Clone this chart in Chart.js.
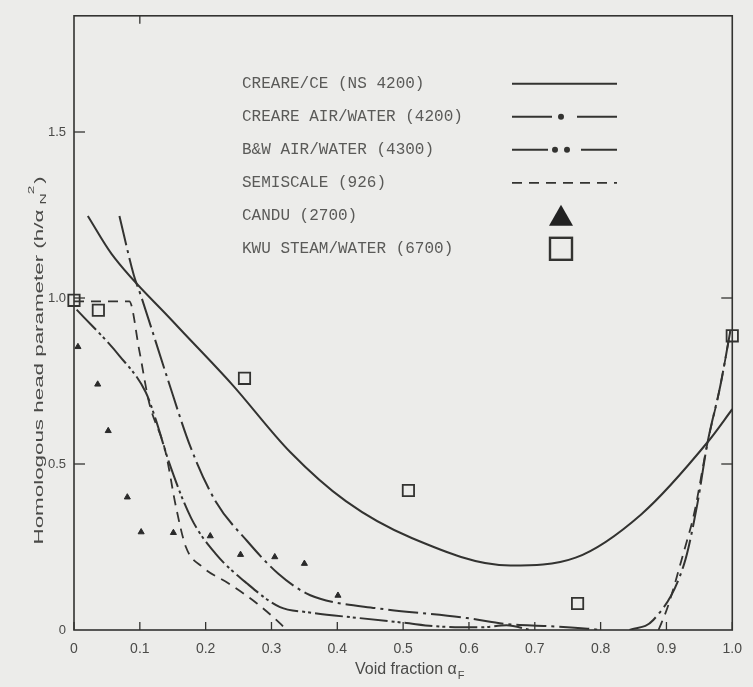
<!DOCTYPE html>
<html>
<head>
<meta charset="utf-8">
<script src="https://cdn.jsdelivr.net/npm/chart.js@4.4.0/dist/chart.umd.min.js"></script>
<style>
  html, body { margin: 0; padding: 0; background: #ececea; }
  canvas { display: block; }
</style>
</head>
<body>
<canvas id="headChart" width="753" height="687"></canvas>
<script>
// ---------------------------------------------------------------------------
// Homologous head parameter vs void fraction
// ---------------------------------------------------------------------------

const xTickValues = [0, 0.1, 0.2, 0.3, 0.4, 0.5, 0.6, 0.7, 0.8, 0.9, 1.0];
const xTickLabels = ['0', '0.1', '0.2', '0.3', '0.4', '0.5', '0.6', '0.7', '0.8', '0.9', '1.0'];
const yTickValues = [0, 0.5, 1.0, 1.5];
const yTickLabels = ['0', '0.5', '1.0', '1.5'];

const seriesNames = [
    'CREARE/CE (NS 4200)',
    'CREARE AIR/WATER (4200)',
    'B&W AIR/WATER (4300)',
    'SEMISCALE (926)',
    'CANDU (2700)',
    'KWU STEAM/WATER (6700)'
];

// CREARE/CE - solid U curve
const creareCeX = [0.021, 0.057, 0.15, 0.24, 0.328, 0.413, 0.513, 0.663, 0.762, 0.862, 0.963, 1.0];
const creareCeY = [1.247, 1.133, 0.93, 0.74, 0.537, 0.388, 0.277, 0.194, 0.218, 0.349, 0.567, 0.665];

// CREARE air/water - long dash + dot (null = break in the curve)
const creareAwX = [0.069, 0.091, 0.102, 0.14, 0.178, 0.215, 0.263, 0.31, 0.353, 0.383, 0.458, 0.597, 0.657, 0.72, 0.78, 0.80, 0.82, 0.844, 0.88, 0.927, 0.947, 0.962, 0.982, 0.997];
const creareAwY = [1.247, 1.068, 1.005, 0.77, 0.546, 0.388, 0.268, 0.17, 0.110, 0.089, 0.066, 0.036, 0.018, 0.012, 0.004, 0, null, 0, 0.03, 0.2, 0.38, 0.56, 0.737, 0.90];

// B&W air/water - long dash + two dots
const bwAwX = [0.004, 0.069, 0.109, 0.124, 0.144, 0.178, 0.215, 0.263, 0.313, 0.353, 0.433, 0.50, 0.558, 0.62, 0.657, 0.693];
const bwAwY = [0.965, 0.826, 0.716, 0.635, 0.507, 0.337, 0.23, 0.14, 0.069, 0.054, 0.036, 0.022, 0.01, 0.008, 0.014, 0];

// Semiscale - dashed
const semiX = [0, 0.084, 0.099, 0.114, 0.139, 0.155, 0.17, 0.195, 0.235, 0.278, 0.313, 0.323, 0.6, 0.888, 0.902, 0.927, 0.942, 0.962, 0.982, 0.997];
const semiY = [0.99, 0.99, 0.844, 0.686, 0.537, 0.37, 0.25, 0.19, 0.14, 0.08, 0.02, 0, null, 0, 0.07, 0.24, 0.35, 0.56, 0.737, 0.90];

// CANDU - triangles
const canduX = [0.006, 0.036, 0.052, 0.081, 0.102, 0.151, 0.207, 0.253, 0.305, 0.350, 0.401];
const canduY = [0.853, 0.74, 0.60, 0.40, 0.295, 0.293, 0.283, 0.227, 0.22, 0.20, 0.104];

// KWU steam/water - open squares
const kwuX = [0, 0.037, 0.259, 0.508, 0.765, 1.0];
const kwuY = [0.993, 0.963, 0.758, 0.42, 0.08, 0.886];

const INK = '#333331';
const TEXT = '#4a4a48';

const toPoints = (xs, ys) => xs.map((x, i) => ({ x: x, y: ys[i] }));

function lineSet(label, xs, ys, dash, width) {
    return {
        type: 'line',
        label: label,
        data: toPoints(xs, ys),
        borderColor: INK,
        borderWidth: width,
        borderDash: dash,
        pointRadius: 0,
        cubicInterpolationMode: 'monotone',
        spanGaps: false,
        fill: false
    };
}

// background fill
const paper = {
    id: 'paper',
    beforeDraw(chart) {
        const ctx = chart.ctx;
        ctx.save();
        ctx.fillStyle = '#ececea';
        ctx.fillRect(0, 0, chart.width, chart.height);
        ctx.restore();
    }
};

// frame, inward tick marks, axis titles, legend
const decorations = {
    id: 'decorations',
    afterDatasetsDraw(chart) {
        const { ctx, chartArea: a, scales: { x, y } } = chart;
        ctx.save();
        ctx.strokeStyle = INK;
        ctx.lineWidth = 1.6;
        ctx.setLineDash([]);
        ctx.strokeRect(a.left, a.top, a.right - a.left, a.bottom - a.top);

        const seg = (x1, y1, x2, y2) => {
            ctx.beginPath();
            ctx.moveTo(x1, y1);
            ctx.lineTo(x2, y2);
            ctx.stroke();
        };
        ctx.lineWidth = 1.3;
        xTickValues.forEach(v => {
            const px = x.getPixelForValue(v);
            seg(px, a.bottom, px, a.bottom - 8);
        });
        seg(x.getPixelForValue(0.1), a.top, x.getPixelForValue(0.1), a.top + 8);
        [0.5, 1.0, 1.5].forEach(v => {
            const py = y.getPixelForValue(v);
            seg(a.left, py, a.left + 11, py);
            if (v < 1.5) seg(a.right, py, a.right - 11, py);
        });

        // x title with subscript
        ctx.fillStyle = TEXT;
        ctx.textBaseline = 'alphabetic';
        ctx.textAlign = 'left';
        ctx.font = '16px "Liberation Sans", Arial, sans-serif';
        const xt = 'Void fraction \u03b1';
        const xw = ctx.measureText(xt).width;
        const xs0 = 355;
        ctx.fillText(xt, xs0, a.bottom + 44);
        ctx.font = '11px "Liberation Sans", Arial, sans-serif';
        ctx.fillText('F', xs0 + xw + 1, a.bottom + 49);

        // y title, rotated and stretched along its length
        ctx.save();
        ctx.translate(43, 359);
        ctx.rotate(-Math.PI / 2);
        ctx.scale(1.72, 1);
        ctx.font = '13px "Liberation Sans", Arial, sans-serif';
        ctx.textAlign = 'left';
        const main = 'Homologous head parameter (h/\u03b1';
        const mw = ctx.measureText(main).width;
        const start = -(mw + 21) / 2;
        ctx.fillText(main, start, 0);
        ctx.font = '9px "Liberation Sans", Arial, sans-serif';
        ctx.fillText('N', start + mw + 3, 3);
        ctx.fillText('2', start + mw + 9, -9);
        ctx.font = '13px "Liberation Sans", Arial, sans-serif';
        ctx.fillText(')', start + mw + 15, 0);
        ctx.restore();

        // legend
        const textX = 242;
        const lineX1 = 512;
        const lineX2 = 617;
        const markX = 561;
        ctx.font = '16px "Liberation Mono", "DejaVu Sans Mono", monospace';
        ctx.textBaseline = 'middle';
        chart.data.datasets.forEach((ds, i) => {
            const rowY = a.top + 68 + i * 33;
            ctx.fillStyle = '#5a5a58';
            ctx.fillText(ds.label, textX, rowY);
            ctx.strokeStyle = INK;
            if (ds.type === 'line') {
                ctx.lineWidth = ds.borderWidth;
                ctx.setLineDash(ds.legendDash || ds.borderDash || []);
                seg(lineX1, rowY, lineX2, rowY);
                ctx.setLineDash([]);
                ctx.fillStyle = INK;
                (ds.legendDots || []).forEach(dx => {
                    ctx.beginPath();
                    ctx.arc(markX + dx, rowY, 3, 0, Math.PI * 2);
                    ctx.fill();
                });
            } else if (ds.pointStyle === 'triangle') {
                ctx.fillStyle = '#222';
                ctx.beginPath();
                ctx.moveTo(markX, rowY - 11);
                ctx.lineTo(markX + 12, rowY + 10);
                ctx.lineTo(markX - 12, rowY + 10);
                ctx.closePath();
                ctx.fill();
            } else {
                ctx.lineWidth = 2.4;
                ctx.strokeRect(markX - 11, rowY - 11, 22, 22);
            }
        });
        ctx.restore();
    }
};

const creareAw = lineSet(seriesNames[1], creareAwX, creareAwY, [30, 5, 3, 5], 2);
creareAw.legendDash = [40, 25];
creareAw.legendDots = [0];
const bwAw = lineSet(seriesNames[2], bwAwX, bwAwY, [28, 4, 3, 3, 3, 4], 2);
bwAw.legendDash = [36, 33];
bwAw.legendDots = [-6, 6];

const chart = new Chart(document.getElementById('headChart'), {
    data: {
        datasets: [
            lineSet(seriesNames[0], creareCeX, creareCeY, [], 2),
            creareAw,
            bwAw,
            lineSet(seriesNames[3], semiX, semiY, [10, 7], 1.8),
            {
                type: 'scatter',
                label: seriesNames[4],
                data: toPoints(canduX, canduY),
                pointStyle: 'triangle',
                pointRadius: 3.5,
                backgroundColor: '#2a2a2a',
                borderColor: '#2a2a2a',
                borderWidth: 1,
                clip: false
            },
            {
                type: 'scatter',
                label: seriesNames[5],
                data: toPoints(kwuX, kwuY),
                pointStyle: 'rect',
                pointRadius: 8,
                backgroundColor: 'rgba(0,0,0,0)',
                borderColor: INK,
                borderWidth: 1.8,
                clip: false
            }
        ]
    },
    options: {
        responsive: false,
        animation: false,
        devicePixelRatio: 1,
        layout: { padding: { left: 0, right: 11, top: 10, bottom: 0 } },
        plugins: {
            legend: { display: false },
            tooltip: { enabled: false }
        },
        scales: {
            x: {
                type: 'linear',
                min: 0,
                max: 1.0,
                grid: { display: false, drawTicks: false },
                border: { display: false },
                afterBuildTicks: (scale) => { scale.ticks = xTickValues.map(v => ({ value: v })); },
                afterFit: (scale) => { scale.height = 57; },
                ticks: {
                    padding: 11,
                    color: TEXT,
                    font: { family: '"Liberation Sans", Arial, sans-serif', size: 14 },
                    maxRotation: 0,
                    callback: (value) => xTickLabels[xTickValues.indexOf(Math.round(value * 10) / 10)]
                }
            },
            y: {
                type: 'linear',
                min: 0,
                max: 1.85,
                grid: { display: false, drawTicks: false },
                border: { display: false },
                afterBuildTicks: (scale) => { scale.ticks = yTickValues.map(v => ({ value: v })); },
                afterFit: (scale) => { scale.width = 74; },
                ticks: {
                    padding: 8,
                    color: TEXT,
                    font: { family: '"Liberation Sans", Arial, sans-serif', size: 13 },
                    callback: (value) => yTickLabels[yTickValues.indexOf(value)]
                }
            }
        }
    },
    plugins: [paper, decorations]
});
</script>
</body>
</html>
